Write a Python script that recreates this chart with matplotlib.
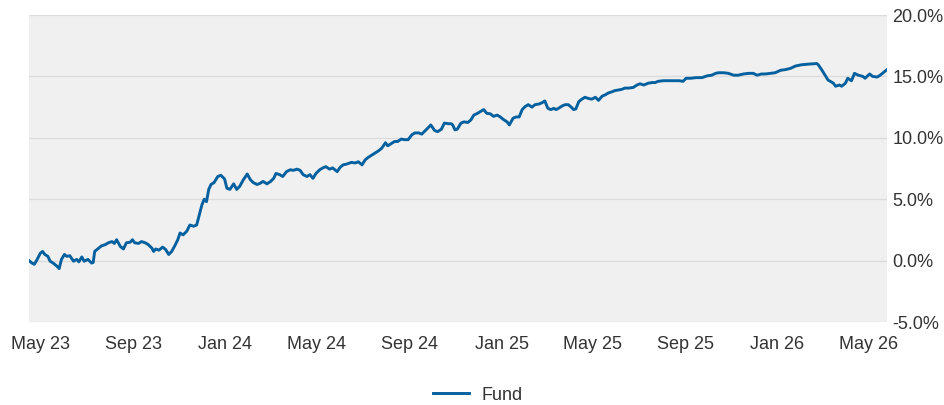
import datetime as dt
import matplotlib
matplotlib.use("Agg")
import matplotlib.pyplot as plt
import matplotlib.dates as mdates
from matplotlib.ticker import FuncFormatter

# series: days since start date, cumulative return in %
start_date = dt.date(2023, 4, 16)
day_offsets = [
    0, 4, 7, 10, 15, 18, 21, 25, 28, 32, 37, 40, 43, 47, 50, 54, 59, 63, 66, 70,
    73, 78, 83, 85, 87, 92, 96, 101, 105, 110, 113, 116, 121, 125, 129, 134, 137, 140, 145,
    149, 154, 158, 163, 165, 168, 172, 177, 181, 185, 189, 193, 197, 200, 204, 209, 213,
    218, 222, 225, 229, 232, 235, 238, 241, 245, 250, 254, 259, 262, 266, 271, 275, 279,
    284, 289, 293, 297, 302, 306, 310, 315, 320, 324, 327, 332, 336, 341, 346, 350, 355,
    359, 363, 368, 372, 376, 380, 385, 389, 393, 398, 402, 408, 412, 416, 420,
    427, 432, 436, 441, 445, 449, 454, 458, 463, 467, 472, 475, 480, 484, 488, 493, 497,
    502, 507, 511, 516, 520, 525, 529, 532, 537, 541, 546, 550, 555, 559,
    561, 564, 567, 572, 576, 581, 585, 589, 594, 598, 602, 606, 611, 615, 620, 624, 628,
    633, 636, 641, 645, 649, 653, 657, 661, 666, 670, 675, 679, 683, 687, 691, 695,
    698, 701, 706, 710, 714, 718, 721, 724, 728, 732, 736, 741, 745, 750, 754, 759, 763,
    767, 772, 776, 781, 785, 789, 794, 800, 805, 809, 814, 820, 825, 829, 833,
    840, 848, 854, 861, 866, 870, 876, 883, 891, 898, 904, 909, 913, 920, 926, 933, 939,
    946, 953, 959, 964, 970,
    975, 981, 988, 995, 1001, 1008, 1015, 1023, 1032, 1043, 1045, 1050, 1054, 1058, 1061,
    1065, 1068, 1073, 1076, 1081, 1084, 1089, 1093, 1098, 1104, 1107, 1113, 1117, 1123,
    1127, 1133, 1136,
]
fund_pct = [
    0.0, -0.2, -0.3, 0.0, 0.6, 0.75, 0.5, 0.35, -0.05, -0.2, -0.45, -0.65, 0.1, 0.5, 0.35, 0.4, -0.05, 0.1, -0.1, 0.3,
    -0.05, 0.1, -0.2, -0.15, 0.75, 1.0, 1.2, 1.3, 1.45, 1.55, 1.4, 1.7, 1.15, 0.95, 1.45, 1.5, 1.7, 1.45, 1.4,
    1.55, 1.45, 1.3, 1.0, 0.75, 0.95, 0.85, 1.1, 0.9, 0.5, 0.75, 1.2, 1.7, 2.25, 2.1, 2.4, 2.9,
    2.8, 2.9, 3.6, 4.55, 5.0, 4.8, 5.8, 6.2, 6.35, 6.85, 6.95, 6.65, 5.9, 5.8, 6.25, 5.8, 6.05,
    6.6, 7.05, 6.6, 6.35, 6.2, 6.3, 6.45, 6.25, 6.45, 6.7, 7.1, 7.0, 6.85, 7.25, 7.4, 7.35, 7.45,
    7.35, 7.0, 6.85, 7.0, 6.7, 7.1, 7.4, 7.55, 7.65, 7.45, 7.55, 7.25, 7.6, 7.8, 7.85,
    8.0, 7.95, 8.05, 7.8, 8.2, 8.4, 8.6, 8.75, 8.95, 9.15, 9.6, 9.35, 9.55, 9.7, 9.7, 9.9, 9.85,
    9.85, 10.25, 10.4, 10.4, 10.3, 10.6, 10.85, 11.05, 10.6, 10.5, 10.7, 11.2, 11.15, 11.15,
    11.05, 10.65, 10.7, 11.2, 11.3, 11.25, 11.45, 11.85, 12.0, 12.15, 12.3, 12.0, 11.95, 11.75, 11.85, 11.7, 11.5,
    11.3, 11.05, 11.6, 11.7, 11.7, 12.3, 12.55, 12.7, 12.5, 12.7, 12.75, 12.85, 13.0, 12.4, 12.3, 12.4,
    12.3, 12.4, 12.6, 12.7, 12.7, 12.5, 12.3, 12.35, 12.95, 13.15, 13.3, 13.2, 13.15, 13.3, 13.05, 13.4, 13.5,
    13.65, 13.75, 13.85, 13.9, 13.95, 14.05, 14.05, 14.1, 14.3, 14.4, 14.3, 14.45, 14.5, 14.5, 14.6,
    14.65, 14.65, 14.65, 14.65, 14.6, 14.85, 14.85, 14.9, 14.9, 15.05, 15.1, 15.25, 15.3, 15.3, 15.25, 15.1, 15.1,
    15.2, 15.25, 15.25, 15.1, 15.2,
    15.2, 15.25, 15.3, 15.5, 15.55, 15.65, 15.85, 15.95, 16.0, 16.05, 15.95, 15.5, 15.1, 14.7, 14.6,
    14.45, 14.2, 14.3, 14.2, 14.45, 14.85, 14.65, 15.25, 15.1, 15.0, 14.85, 15.2, 15.0, 14.95,
    15.1, 15.4, 15.55,
]
y_ticks = [-5, 0, 5, 10, 15, 20]
x_tick_dates = [dt.date(2023, 5, 1), dt.date(2023, 9, 1), dt.date(2024, 1, 1),
                dt.date(2024, 5, 1), dt.date(2024, 9, 1), dt.date(2025, 1, 1),
                dt.date(2025, 5, 1), dt.date(2025, 9, 1), dt.date(2026, 1, 1),
                dt.date(2026, 5, 1)]

dates = [start_date + dt.timedelta(days=d) for d in day_offsets]

plt.rcParams['font.family'] = ['Liberation Sans', 'DejaVu Sans']

fig = plt.figure(figsize=(9.44, 4.05), dpi=100)
ax = fig.add_axes([0.0307, 0.2049, 0.9089, 0.758])
ax.set_facecolor('#f0f0f0')

line, = ax.plot(dates, fund_pct, color='#04609e', lw=2.1, solid_joinstyle='round')

ax.set_xlim(dates[0], dates[-1])
ax.set_ylim(-5, 20)
ax.set_yticks(y_ticks)
ax.yaxis.set_major_formatter(FuncFormatter(lambda v, p: '%.1f%%' % v))
ax.yaxis.tick_right()
ax.set_xticks(x_tick_dates)
ax.xaxis.set_major_formatter(mdates.DateFormatter('%b %y'))

ax.grid(axis='y', color='#dcdcdc', lw=1.0)
ax.set_axisbelow(True)
for s in ax.spines.values():
    s.set_visible(False)
ax.tick_params(axis='both', length=0, labelsize=13, colors='#333333')
ax.tick_params(axis='x', pad=10)
ax.tick_params(axis='y', pad=4)

fig.legend([line], ['Fund'], loc='center', bbox_to_anchor=(478 / 944, 1 - 395 / 405),
           frameon=False, fontsize=13, handlelength=2.0, handletextpad=0.7,
           labelcolor='#333333')

fig.savefig('out.png', dpi=100)
